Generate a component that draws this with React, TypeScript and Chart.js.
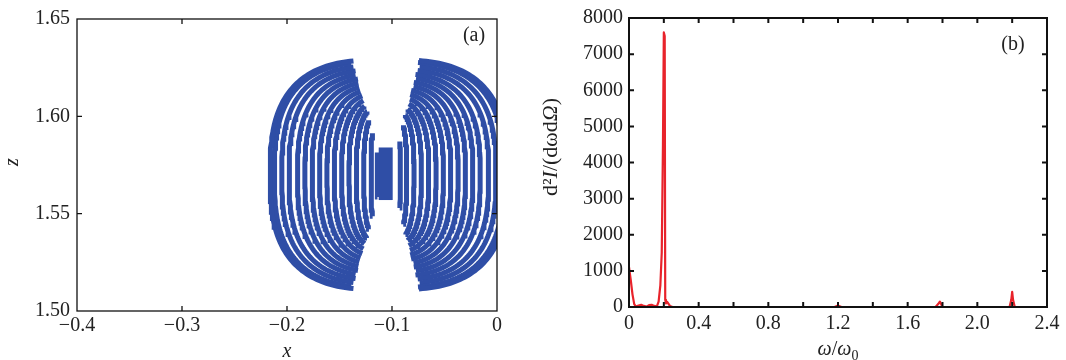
import React, { useEffect, useRef } from "react";
import { Chart, registerables } from "chart.js";

Chart.register(...registerables);

const FONT = "'Liberation Serif', 'Times New Roman', serif";
const TXT = "#222222";

// ---------- Panel (a) ----------
const xTicksA = [-0.4, -0.3, -0.2, -0.1, 0];
const xLabelsA = ["−0.4", "−0.3", "−0.2", "−0.1", "0"];
const zTicksA = [1.5, 1.55, 1.6, 1.65];
const zLabelsA = ["1.50", "1.55", "1.60", "1.65"];
const xMarksA = [-0.3, -0.2, -0.1];
const zMarksA = [1.55, 1.6];

// nested curves of the left lobe (centre, half-widths in x, half-heights in z)
const leftCentre = [-0.108, 1.57];
const leftRingA = [0.108, 0.104, 0.097, 0.09, 0.082, 0.075, 0.068, 0.061, 0.054, 0.047, 0.04, 0.033, 0.026, 0.019, 0.012, 0.006];
const leftRingB = [0.059, 0.058, 0.056, 0.054, 0.052, 0.05, 0.048, 0.046, 0.044, 0.042, 0.04, 0.038, 0.036, 0.034, 0.032, 0.03];
const leftEdgeSlope = 2.05;

// nested curves of the right lobe
const rightCentre = [-0.1, 1.57];
const rightRingA = [0.11, 0.106, 0.099, 0.092, 0.084, 0.077, 0.07, 0.063, 0.056, 0.049, 0.042, 0.035, 0.028, 0.021, 0.014, 0.008];
const rightRingB = [0.059, 0.058, 0.056, 0.054, 0.052, 0.05, 0.048, 0.046, 0.044, 0.042, 0.04, 0.038, 0.036, 0.034, 0.032, 0.03];
const rightEdgeSlope = 2.4;

// dense core at the pinch
const coreX = [-0.106, -0.106];
const coreZ = [1.557, 1.584];

// ---------- Panel (b) ----------
const omega = [0, 0.01, 0.02, 0.03, 0.04, 0.055, 0.07, 0.085, 0.1, 0.115, 0.13, 0.145, 0.16, 0.17, 0.18, 0.188, 0.195, 0.2, 0.205, 0.208, 0.212, 0.218, 0.225, 0.235, 0.25, 1.18, 1.2, 1.22, 1.76, 1.775, 1.785, 1.8, 2.185, 2.195, 2.2, 2.205, 2.215, 2.4];
const intensity = [1100, 750, 350, 80, 10, 40, 60, 30, 10, 50, 60, 30, 20, 150, 600, 1500, 4500, 7600, 7500, 200, 100, 150, 100, 30, 0, 0, 40, 0, 0, 80, 150, 0, 0, 200, 420, 200, 0, 0];
const xTicksB = [0, 0.4, 0.8, 1.2, 1.6, 2.0, 2.4];
const xLabelsB = ["0", "0.4", "0.8", "1.2", "1.6", "2.0", "2.4"];
const yTicksB = [0, 1000, 2000, 3000, 4000, 5000, 6000, 7000, 8000];
const yLabelsB = ["0", "1000", "2000", "3000", "4000", "5000", "6000", "7000", "8000"];
const xMarksB = [0.2, 0.4, 0.6, 0.8, 1.0, 1.2, 1.4, 1.6, 1.8, 2.0, 2.2];
const yMarksB = [1000, 2000, 3000, 4000, 5000, 6000, 7000];

const BLUE = "#2f4ea6";
const RED = "#e8232b";
const SUPER = 2.8;

function ringPoints(cx: number, cz: number, a: number, b: number, k: number, dir: number) {
  const pts: { x: number; y: number }[] = [];
  for (let deg = -90; deg <= 90; deg += 1.5) {
    const p = (deg * Math.PI) / 180;
    const c = Math.cos(p);
    const s = Math.sin(p);
    const dx = a * Math.pow(Math.abs(c), 2 / SUPER);
    const dz = b * Math.sign(s) * Math.pow(Math.abs(s), 2 / SUPER);
    if (Math.abs(dz) <= k * dx) pts.push({ x: cx + dir * dx, y: cz + dz });
  }
  return pts;
}

type Seg = { t: string; it?: boolean; sub?: boolean };

function drawRich(ctx: CanvasRenderingContext2D, segs: Seg[], x: number, y: number, rot: number, size: number) {
  ctx.save();
  ctx.translate(x, y);
  ctx.rotate(rot);
  const fontFor = (s: Seg) => `${s.it ? "italic " : ""}${s.sub ? Math.round(size * 0.7) : size}px ${FONT}`;
  let total = 0;
  const widths = segs.map((s) => {
    ctx.font = fontFor(s);
    const w = ctx.measureText(s.t).width;
    total += w;
    return w;
  });
  let cx = -total / 2;
  ctx.textBaseline = "alphabetic";
  ctx.textAlign = "left";
  ctx.fillStyle = TXT;
  segs.forEach((s, i) => {
    ctx.font = fontFor(s);
    ctx.fillText(s.t, cx, s.sub ? size * 0.25 : 0);
    cx += widths[i];
  });
  ctx.restore();
}

function framePlugin(xMarks: number[], yMarks: number[], lw: number, tickLen: number) {
  return {
    id: "frame",
    afterDatasetsDraw(chart: any) {
      const { ctx, chartArea: a, scales } = chart;
      ctx.save();
      ctx.strokeStyle = "#111";
      ctx.lineWidth = lw;
      ctx.beginPath();
      xMarks.forEach((v) => {
        const px = scales.x.getPixelForValue(v);
        ctx.moveTo(px, a.bottom);
        ctx.lineTo(px, a.bottom - tickLen);
        ctx.moveTo(px, a.top);
        ctx.lineTo(px, a.top + tickLen);
      });
      yMarks.forEach((v) => {
        const py = scales.y.getPixelForValue(v);
        ctx.moveTo(a.left, py);
        ctx.lineTo(a.left + tickLen, py);
        ctx.moveTo(a.right, py);
        ctx.lineTo(a.right - tickLen, py);
      });
      ctx.stroke();
      ctx.strokeRect(a.left, a.top, a.right - a.left, a.bottom - a.top);
      ctx.restore();
    },
  };
}

function textPlugin(draw: (ctx: CanvasRenderingContext2D, chart: any) => void) {
  return {
    id: "texts",
    afterDraw(chart: any) {
      draw(chart.ctx, chart);
    },
  };
}

function tickIndex(arr: number[], v: number) {
  let best = 0;
  arr.forEach((t, i) => {
    if (Math.abs(t - v) < Math.abs(arr[best] - v)) best = i;
  });
  return best;
}

function PanelA() {
  const ref = useRef<HTMLCanvasElement>(null);
  useEffect(() => {
    const datasets: any[] = [];
    leftRingA.forEach((a, i) => {
      datasets.push({
        data: ringPoints(leftCentre[0], leftCentre[1], a, leftRingB[i], leftEdgeSlope, -1),
        showLine: true,
        borderColor: BLUE,
        borderWidth: 5,
        pointRadius: 0,
        fill: false,
        clip: 0,
      });
    });
    rightRingA.forEach((a, i) => {
      datasets.push({
        data: ringPoints(rightCentre[0], rightCentre[1], a, rightRingB[i], rightEdgeSlope, 1),
        showLine: true,
        borderColor: BLUE,
        borderWidth: 5,
        pointRadius: 0,
        fill: false,
        clip: 0,
      });
    });
    datasets.push({
      data: coreX.map((x, i) => ({ x, y: coreZ[i] })),
      showLine: true,
      borderColor: BLUE,
      borderWidth: 14,
      pointRadius: 0,
      clip: 0,
    });
    const chart = new Chart(ref.current!, {
      type: "scatter",
      data: { datasets },
      options: {
        animation: false,
        responsive: false,
        devicePixelRatio: 1,
        layout: { padding: { left: 0, right: 36, top: 13, bottom: 0 } },
        plugins: { legend: { display: false }, tooltip: { enabled: false } },
        scales: {
          x: {
            type: "linear",
            min: -0.4,
            max: 0,
            afterBuildTicks: (s: any) => {
              s.ticks = xTicksA.map((v) => ({ value: v }));
            },
            afterFit: (s: any) => {
              s.height = 49;
            },
            ticks: {
              callback: (v: any) => xLabelsA[tickIndex(xTicksA, v)],
              font: { family: FONT, size: 20 },
              color: TXT,
              padding: 3,
              maxRotation: 0,
              autoSkip: false,
            },
            grid: { display: false, drawTicks: false },
            border: { display: false },
          },
          y: {
            type: "linear",
            min: 1.5,
            max: 1.65,
            afterBuildTicks: (s: any) => {
              s.ticks = zTicksA.map((v) => ({ value: v }));
            },
            afterFit: (s: any) => {
              s.width = 77;
            },
            ticks: {
              callback: (v: any) => zLabelsA[tickIndex(zTicksA, v)],
              font: { family: FONT, size: 20 },
              color: TXT,
              padding: 7,
              autoSkip: false,
            },
            grid: { display: false, drawTicks: false },
            border: { display: false },
          },
        },
      },
      plugins: [
        framePlugin(xMarksA, zMarksA, 1.3, 5),
        textPlugin((ctx) => {
          drawRich(ctx, [{ t: "x", it: true }], 287, 357, 0, 20);
          drawRich(ctx, [{ t: "z", it: true }], 18, 162, -Math.PI / 2, 20);
          drawRich(ctx, [{ t: "(a)" }], 474, 41, 0, 20);
        }),
      ],
    } as any);
    return () => chart.destroy();
  }, []);
  return <canvas ref={ref} width={533} height={360} style={{ position: "absolute", left: 0, top: 0 }} />;
}

function PanelB() {
  const ref = useRef<HTMLCanvasElement>(null);
  useEffect(() => {
    const chart = new Chart(ref.current!, {
      type: "scatter",
      data: {
        datasets: [
          {
            data: omega.map((x, i) => ({ x, y: intensity[i] })),
            showLine: true,
            borderColor: RED,
            borderWidth: 2.2,
            borderJoinStyle: "round",
            borderCapStyle: "round",
            pointRadius: 0,
            tension: 0,
            fill: false,
          },
        ],
      },
      options: {
        animation: false,
        responsive: false,
        devicePixelRatio: 1,
        layout: { padding: { left: 0, right: 19, top: 15, bottom: 0 } },
        plugins: { legend: { display: false }, tooltip: { enabled: false } },
        scales: {
          x: {
            type: "linear",
            min: 0,
            max: 2.4,
            afterBuildTicks: (s: any) => {
              s.ticks = xTicksB.map((v) => ({ value: v }));
            },
            afterFit: (s: any) => {
              s.height = 53;
            },
            ticks: {
              callback: (v: any) => xLabelsB[tickIndex(xTicksB, v)],
              font: { family: FONT, size: 20 },
              color: TXT,
              padding: 5,
              maxRotation: 0,
              autoSkip: false,
            },
            grid: { display: false, drawTicks: false },
            border: { display: false },
          },
          y: {
            type: "linear",
            min: 0,
            max: 8000,
            afterBuildTicks: (s: any) => {
              s.ticks = yTicksB.map((v) => ({ value: v }));
            },
            afterFit: (s: any) => {
              s.width = 96;
            },
            ticks: {
              callback: (v: any) => yLabelsB[tickIndex(yTicksB, v)],
              font: { family: FONT, size: 20 },
              color: TXT,
              padding: 6,
              autoSkip: false,
            },
            grid: { display: false, drawTicks: false },
            border: { display: false },
          },
        },
      },
      plugins: [
        framePlugin(xMarksB, yMarksB, 2, 5),
        textPlugin((ctx) => {
          drawRich(
            ctx,
            [{ t: "ω", it: true }, { t: "/" }, { t: "ω", it: true }, { t: "0", sub: true }],
            305,
            355,
            0,
            20
          );
          drawRich(
            ctx,
            [{ t: "d²" }, { t: "I", it: true }, { t: "/(dωd" }, { t: "Ω", it: true }, { t: ")" }],
            24,
            147,
            -Math.PI / 2,
            22
          );
          drawRich(ctx, [{ t: "(b)" }], 480, 50, 0, 20);
        }),
      ],
    } as any);
    return () => chart.destroy();
  }, []);
  return <canvas ref={ref} width={533} height={360} style={{ position: "absolute", left: 533, top: 0 }} />;
}

export default function App() {
  return (
    <div style={{ position: "fixed", left: 0, top: 0, width: 1066, height: 360, background: "#ffffff", overflow: "hidden" }}>
      <PanelA />
      <PanelB />
    </div>
  );
}
